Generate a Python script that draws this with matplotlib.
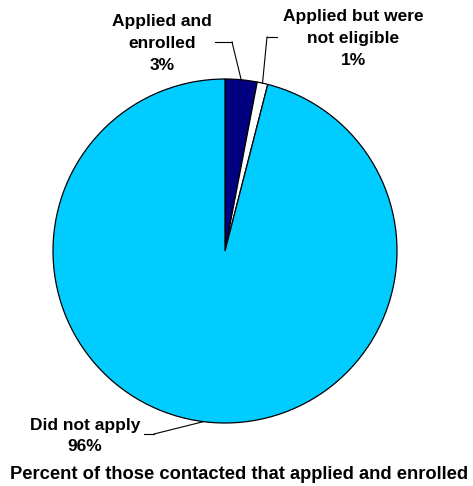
import numpy as np
import matplotlib
matplotlib.use('Agg')
import matplotlib.pyplot as plt

labels = ['Applied and\nenrolled', 'Applied but were\nnot eligible', 'Did not apply']
values = [3, 1, 96]
colors = ['#000080', '#FFFFFF', '#00CCFF']
title = 'Percent of those contacted that applied and enrolled'

W, H = 473, 486
plt.rcParams['font.family'] = ['Liberation Sans', 'DejaVu Sans']

fig = plt.figure(figsize=(W / 100, H / 100), dpi=100)
ax = fig.add_axes([0, 0, 1, 1])

cx, cy, r = 225, H - 251, 172
wedges, _ = ax.pie(values, colors=colors, startangle=90, counterclock=False,
                   center=(cx, cy), radius=r, frame=True,
                   wedgeprops=dict(edgecolor='black', linewidth=0.9))
ax.set_xlim(0, W)
ax.set_ylim(0, H)
ax.set_aspect('equal')
ax.axis('off')

# label text position and the horizontal piece of each leader line
label_pos = [(162, H - 43.5), (353.5, H - 38.5), (85, H - 436)]
elbows = [((215, H - 42), (232, H - 42)),
          ((267, H - 37), (277, H - 37)),
          ((144, H - 434), (154, H - 434))]

for w, lab, v, (tx, ty), (e0, e1) in zip(wedges, labels, values, label_pos, elbows):
    mid = np.deg2rad((w.theta1 + w.theta2) / 2)
    px, py = cx + r * np.cos(mid), cy + r * np.sin(mid)
    ax.text(tx, ty, f'{lab}\n{v}%', ha='center', va='center', fontsize=12.5,
            fontweight='bold', linespacing=1.57)
    ax.plot([e0[0], e1[0]], [e0[1], e1[1]], color='black', lw=0.8)
    near = e1 if abs(e1[0] - px) < abs(e0[0] - px) else e0
    ax.plot([near[0], px], [near[1], py], color='black', lw=0.8)

ax.text(239, H - 474, title, ha='center', va='center', fontsize=13.2, fontweight='bold')

fig.savefig('out.png', dpi=100)
